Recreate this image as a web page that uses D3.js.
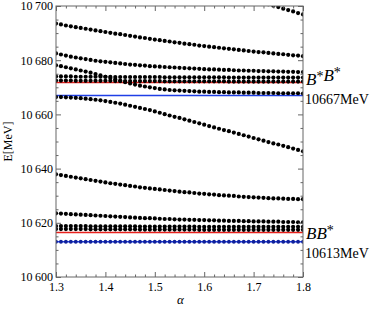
<!DOCTYPE html>
<html><head><meta charset="utf-8">
<script src="https://cdn.jsdelivr.net/npm/d3@7"></script>
<style>body{margin:0;background:#fff}svg{display:block}</style>
</head><body><svg id="c" width="374" height="312"></svg>
<script>
const alphas = [1.30,1.31,1.32,1.33,1.34,1.35,1.36,1.37,1.38,1.39,1.40,1.41,1.42,1.43,1.44,1.45,1.46,1.47,1.48,1.49,1.50,1.51,1.52,1.53,1.54,1.55,1.56,1.57,1.58,1.59,1.60,1.61,1.62,1.63,1.64,1.65,1.66,1.67,1.68,1.69,1.70,1.71,1.72,1.73,1.74,1.75,1.76,1.77,1.78,1.79,1.80];
const seriesTop = [null,null,null,null,null,null,null,null,null,null,null,null,null,null,null,null,null,null,null,null,null,null,null,null,null,null,null,null,null,null,null,null,null,null,null,null,null,null,null,null,null,null,10701.3,10700.7,10700.1,10699.6,10699.0,10698.5,10698.0,10697.4,10696.9];
const seriesA = [10693.5,10693.2,10692.8,10692.5,10692.2,10691.9,10691.6,10691.3,10691.0,10690.7,10690.4,10690.1,10689.8,10689.6,10689.3,10689.0,10688.7,10688.4,10688.2,10687.9,10687.6,10687.4,10687.1,10686.9,10686.6,10686.4,10686.1,10685.9,10685.7,10685.4,10685.2,10685.0,10684.8,10684.6,10684.4,10684.2,10684.0,10683.8,10683.6,10683.4,10683.2,10683.0,10682.9,10682.7,10682.5,10682.3,10682.2,10682.0,10681.8,10681.7,10681.5];
const seriesB = [10682.5,10682.1,10681.7,10681.3,10681.0,10680.7,10680.4,10680.1,10679.8,10679.6,10679.4,10679.2,10679.0,10678.8,10678.6,10678.4,10678.3,10678.1,10678.0,10677.8,10677.7,10677.6,10677.5,10677.4,10677.3,10677.2,10677.1,10677.0,10676.9,10676.8,10676.7,10676.6,10676.6,10676.5,10676.4,10676.4,10676.3,10676.2,10676.2,10676.1,10676.1,10676.0,10676.0,10675.9,10675.9,10675.8,10675.8,10675.7,10675.7,10675.6,10675.6];
const seriesC = [10678.1,10677.8,10677.4,10677.0,10676.6,10676.2,10675.8,10675.4,10674.9,10674.4,10673.9,10673.4,10672.9,10672.4,10671.9,10671.4,10671.0,10670.6,10670.3,10670.0,10669.7,10669.4,10669.2,10669.0,10668.9,10668.8,10668.7,10668.6,10668.5,10668.4,10668.4,10668.3,10668.3,10668.2,10668.2,10668.1,10668.1,10668.1,10668.0,10668.0,10668.0,10667.9,10667.9,10667.9,10667.9,10667.8,10667.8,10667.8,10667.8,10667.8,10667.7];
const seriesR1 = [10674.0,10674.0,10674.0,10674.0,10673.9,10673.9,10673.9,10673.9,10673.9,10673.9,10673.9,10673.9,10673.8,10673.8,10673.8,10673.8,10673.8,10673.8,10673.8,10673.8,10673.8,10673.8,10673.7,10673.7,10673.7,10673.7,10673.7,10673.7,10673.7,10673.7,10673.7,10673.7,10673.7,10673.7,10673.7,10673.6,10673.6,10673.6,10673.6,10673.6,10673.6,10673.6,10673.6,10673.6,10673.6,10673.6,10673.6,10673.6,10673.6,10673.6,10673.6];
const seriesR2 = [10672.5,10672.5,10672.5,10672.5,10672.4,10672.4,10672.4,10672.4,10672.4,10672.4,10672.4,10672.4,10672.3,10672.3,10672.3,10672.3,10672.3,10672.3,10672.3,10672.3,10672.3,10672.3,10672.2,10672.2,10672.2,10672.2,10672.2,10672.2,10672.2,10672.2,10672.2,10672.2,10672.2,10672.2,10672.2,10672.1,10672.1,10672.1,10672.1,10672.1,10672.1,10672.1,10672.1,10672.1,10672.1,10672.1,10672.1,10672.1,10672.1,10672.1,10672.1];
const seriesD = [10666.4,10666.4,10666.3,10666.2,10666.1,10666.0,10665.8,10665.6,10665.4,10665.2,10664.9,10664.6,10664.3,10664.0,10663.6,10663.2,10662.8,10662.4,10662.0,10661.6,10661.1,10660.6,10660.1,10659.6,10659.1,10658.7,10658.2,10657.7,10657.2,10656.7,10656.2,10655.7,10655.2,10654.7,10654.2,10653.8,10653.3,10652.8,10652.3,10651.8,10651.3,10650.8,10650.3,10649.8,10649.3,10648.9,10648.4,10647.9,10647.4,10646.9,10646.4];
const seriesE = [10637.9,10637.6,10637.3,10637.0,10636.7,10636.4,10636.1,10635.8,10635.5,10635.2,10634.9,10634.6,10634.4,10634.1,10633.9,10633.6,10633.4,10633.1,10632.9,10632.7,10632.5,10632.3,10632.1,10631.9,10631.7,10631.5,10631.3,10631.2,10631.0,10630.8,10630.7,10630.5,10630.4,10630.2,10630.1,10630.0,10629.9,10629.7,10629.6,10629.5,10629.4,10629.3,10629.2,10629.1,10629.0,10629.0,10628.9,10628.8,10628.8,10628.7,10628.7];
const seriesF = [10623.5,10623.4,10623.3,10623.2,10623.1,10623.0,10622.9,10622.8,10622.7,10622.6,10622.5,10622.4,10622.3,10622.2,10622.1,10622.0,10621.9,10621.8,10621.7,10621.7,10621.6,10621.5,10621.4,10621.4,10621.3,10621.2,10621.2,10621.1,10621.1,10621.0,10621.0,10620.9,10620.9,10620.8,10620.8,10620.7,10620.7,10620.7,10620.6,10620.6,10620.5,10620.5,10620.5,10620.4,10620.4,10620.4,10620.3,10620.3,10620.3,10620.2,10620.2];
const seriesG1 = [10618.8,10618.8,10618.8,10618.8,10618.8,10618.8,10618.8,10618.7,10618.7,10618.7,10618.7,10618.7,10618.7,10618.7,10618.7,10618.7,10618.7,10618.6,10618.6,10618.6,10618.6,10618.6,10618.6,10618.6,10618.6,10618.6,10618.6,10618.6,10618.6,10618.5,10618.5,10618.5,10618.5,10618.5,10618.5,10618.5,10618.5,10618.5,10618.5,10618.5,10618.5,10618.5,10618.5,10618.5,10618.5,10618.5,10618.5,10618.5,10618.5,10618.5,10618.5];
const seriesG2 = [10617.7,10617.7,10617.7,10617.7,10617.7,10617.7,10617.7,10617.6,10617.6,10617.6,10617.6,10617.6,10617.6,10617.6,10617.6,10617.6,10617.6,10617.5,10617.5,10617.5,10617.5,10617.5,10617.5,10617.5,10617.5,10617.5,10617.5,10617.5,10617.5,10617.4,10617.4,10617.4,10617.4,10617.4,10617.4,10617.4,10617.4,10617.4,10617.4,10617.4,10617.4,10617.4,10617.4,10617.4,10617.4,10617.4,10617.4,10617.4,10617.4,10617.4,10617.4];
const seriesBlueLow = [10613.0,10613.0,10613.0,10613.0,10613.0,10613.0,10613.0,10613.0,10613.0,10613.0,10613.0,10613.0,10613.0,10613.0,10613.0,10613.0,10613.0,10613.0,10613.0,10613.0,10613.0,10613.0,10613.0,10613.0,10613.0,10613.0,10613.0,10613.0,10613.0,10613.0,10613.0,10613.0,10613.0,10613.0,10613.0,10613.0,10613.0,10613.0,10613.0,10613.0,10613.0,10613.0,10613.0,10613.0,10613.0,10613.0,10613.0,10613.0,10613.0,10613.0,10613.0];
const redLevels = [10671.8, 10616.4];
const blueLevels = [10667.0, 10613.0];
const xTicks = [1.3,1.4,1.5,1.6,1.7,1.8];
const yTicks = [10600,10620,10640,10660,10680,10700];
const thresholdNames = ["B*B*", "BB*"];
const thresholdTexts = ["10667MeV", "10613MeV"];
const nameAnchors = [10670.8, 10614.0];
const textAnchors = [10663.8, 10607.0];

const svg = d3.select("#c");
const L=56, R=303, T=6, B=277;
const x = d3.scaleLinear().domain([1.3,1.8]).range([L,R]);
const y = d3.scaleLinear().domain([10600,10700]).range([B,T]);
const font = "'Liberation Serif','Times New Roman',serif";

svg.append("defs").append("clipPath").attr("id","clip")
  .append("rect").attr("x",L).attr("y",T).attr("width",R-L).attr("height",B-T);
const plot = svg.append("g").attr("clip-path","url(#clip)");

plot.selectAll("line.red").data(redLevels).join("line").attr("class","red")
  .attr("x1",L).attr("x2",R).attr("y1",d=>y(d)).attr("y2",d=>y(d))
  .attr("stroke","#e8201c").attr("stroke-width",1.5);
plot.selectAll("line.blue").data(blueLevels).join("line").attr("class","blue")
  .attr("x1",L).attr("x2",R).attr("y1",d=>y(d)).attr("y2",d=>y(d))
  .attr("stroke","#1f3fe6").attr("stroke-width",1.5);

const blackSeries = [seriesTop,seriesA,seriesB,seriesC,seriesR1,seriesR2,seriesD,seriesE,seriesF,seriesG1,seriesG2];
blackSeries.forEach(s=>{
  plot.append("g").selectAll("circle")
    .data(alphas.map((a,i)=>[a,s[i]]).filter(d=>d[1]!=null))
    .join("circle").attr("cx",d=>x(d[0])).attr("cy",d=>y(d[1])).attr("r",2.1).attr("fill","#000");
});
plot.append("g").selectAll("circle")
  .data(alphas.map((a,i)=>[a,seriesBlueLow[i]]))
  .join("circle").attr("cx",d=>x(d[0])).attr("cy",d=>y(d[1])).attr("r",1.9).attr("fill","#10209a");

const fc = "#666";
const fmt = d3.formatLocale({decimal:".",thousands:"\u2009",grouping:[3],currency:["",""]}).format(",");
function styleAxis(g){ g.attr("font-family",null).attr("font-size",null); g.select(".domain").remove(); g.selectAll("line").attr("stroke",fc); g.selectAll("text").style("font-family",font).style("font-size","12px").attr("fill","#000"); }
const yMinor = d3.range(10600,10701,5).filter(v=>v%20!==0);
const xMinor = d3.range(0,26).map(i=>+(1.3+i*0.02).toFixed(2)).filter(v=>Math.abs(v*10-Math.round(v*10))>1e-6);

svg.append("g").attr("transform",`translate(${L},0)`).call(d3.axisLeft(y).tickValues(yTicks).tickSize(-5).tickPadding(3).tickFormat(fmt)).call(styleAxis);
svg.append("g").attr("transform",`translate(${L},0)`).call(d3.axisLeft(y).tickValues(yMinor).tickSize(-2.5).tickFormat("")).call(styleAxis);
svg.append("g").attr("transform",`translate(${R},0)`).call(d3.axisRight(y).tickValues(yTicks).tickSize(-5).tickFormat("")).call(styleAxis);
svg.append("g").attr("transform",`translate(${R},0)`).call(d3.axisRight(y).tickValues(yMinor).tickSize(-2.5).tickFormat("")).call(styleAxis);
svg.append("g").attr("transform",`translate(0,${B})`).call(d3.axisBottom(x).tickValues(xTicks).tickSize(-5).tickPadding(5).tickFormat(d3.format(".1f"))).call(styleAxis);
svg.append("g").attr("transform",`translate(0,${B})`).call(d3.axisBottom(x).tickValues(xMinor).tickSize(-2.5).tickFormat("")).call(styleAxis);
svg.append("g").attr("transform",`translate(0,${T})`).call(d3.axisTop(x).tickValues(xTicks).tickSize(-5).tickFormat("")).call(styleAxis);
svg.append("g").attr("transform",`translate(0,${T})`).call(d3.axisTop(x).tickValues(xMinor).tickSize(-2.5).tickFormat("")).call(styleAxis);
svg.append("rect").attr("x",L).attr("y",T).attr("width",R-L).attr("height",B-T).attr("fill","none").attr("stroke",fc).attr("stroke-width",1);

svg.append("text").attr("transform",`translate(12,${(T+B)/2}) rotate(-90)`).attr("text-anchor","middle")
  .style("font-family",font).style("font-size","12px").text("E[MeV]");
svg.append("text").attr("x",(L+R)/2+1).attr("y",304).attr("text-anchor","middle")
  .style("font-family",font).style("font-size","13px").attr("font-style","italic").text("α");

thresholdNames.forEach((name,i)=>{
  const tn = svg.append("text").attr("x",R+3).attr("y",y(nameAnchors[i])).style("font-family",font).style("font-size","17px");
  name.match(/B\*?/g).forEach(p=>{
    tn.append("tspan").attr("font-style","italic").attr("dy",0).text("B");
    if(p.length>1){
      tn.append("tspan").style("font-size","14px").attr("dy",-4).text("*");
      tn.append("tspan").style("font-size","14px").attr("dy",4).text("");
    }
  });
  svg.append("text").attr("x",R+2).attr("y",y(textAnchors[i])).style("font-family",font).style("font-size","14px").text(thresholdTexts[i]);
});
</script></body></html>
